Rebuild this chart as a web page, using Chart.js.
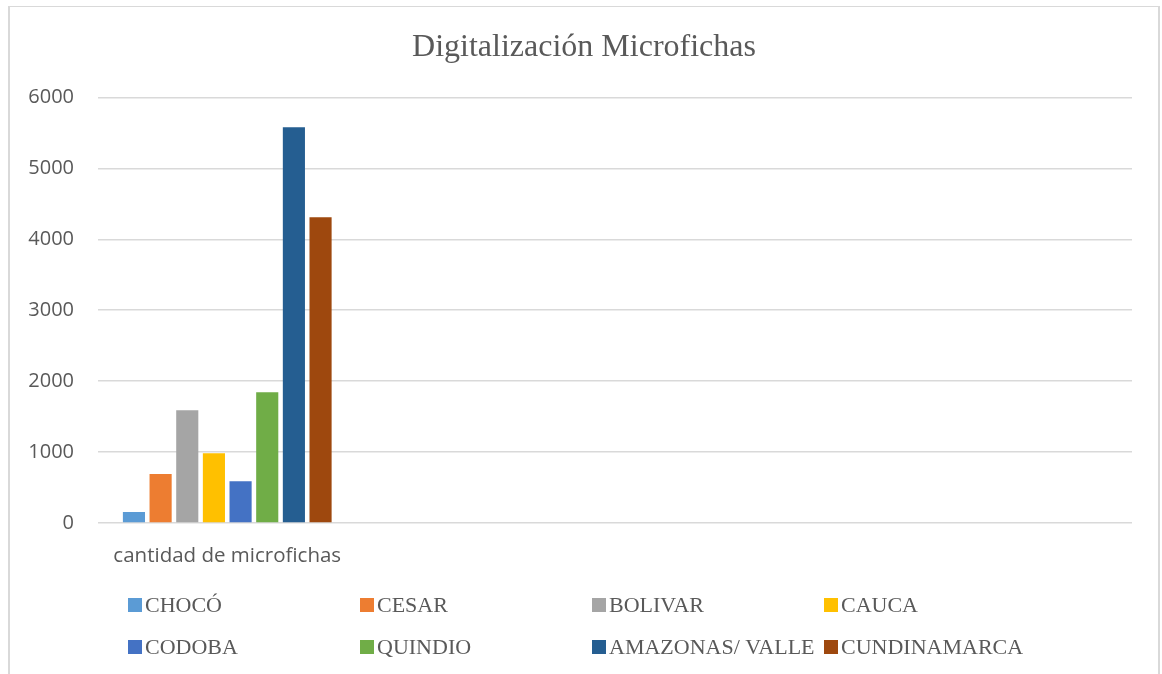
<!DOCTYPE html>
<html>
<head>
<meta charset="utf-8">
<title>Digitalización Microfichas</title>
<script src="https://cdn.jsdelivr.net/npm/chart.js@4"></script>
<style>
  html, body { margin: 0; padding: 0; background: #fff; }
  #wrap { position: relative; width: 1162px; height: 674px; overflow: hidden; }
  #frame {
    position: absolute; left: 8px; top: 6px; width: 1152px; height: 680px;
    border: 2px solid #d9d9d9; border-top-width: 1px; box-sizing: border-box;
  }
  canvas { position: absolute; left: 0; top: 0; }
</style>
</head>
<body>
<div id="wrap">
  <div id="frame"></div>
  <canvas id="chart" width="1162" height="674"></canvas>
</div>
<script>
// one real category, the other three are empty slots in the source sheet
const categories = ["cantidad de microfichas", "", "", ""];
const seriesNames = ["CHOCÓ", "CESAR", "BOLIVAR", "CAUCA", "CODOBA", "QUINDIO", "AMAZONAS/ VALLE", "CUNDINAMARCA"];
const seriesValues = [155, 690, 1590, 985, 590, 1845, 5580, 4310];
const seriesColors = ["#5b9bd5", "#ed7d31", "#a5a5a5", "#ffc000", "#4472c4", "#70ad47", "#255e91", "#9e480e"];

const TEXT = "#595959";
const GRID = "#d9d9d9";

const datasets = seriesNames.map((name, i) => ({
  label: name,
  data: categories.map((c, j) => (j === 0 ? seriesValues[i] : null)),
  backgroundColor: seriesColors[i],
  categoryPercentage: 0.825,
  barPercentage: 0.83,
}));

// legend laid out in a fixed 4-column grid, like the Excel one
const gridLegend = {
  id: "gridLegend",
  afterDraw(chart) {
    const ctx = chart.ctx;
    const cols = 4;
    const x0 = 128, colW = 232, y0 = 605, rowH = 42, box = 14;
    ctx.save();
    ctx.font = "22px 'Liberation Serif'";
    ctx.textBaseline = "middle";
    ctx.textAlign = "left";
    chart.data.datasets.forEach((ds, i) => {
      const x = x0 + (i % cols) * colW;
      const y = y0 + Math.floor(i / cols) * rowH;
      ctx.fillStyle = ds.backgroundColor;
      ctx.fillRect(x, y - box / 2, box, box);
      ctx.fillStyle = TEXT;
      ctx.fillText(ds.label, x + box + 3, y + 1);
    });
    ctx.restore();
  },
};

new Chart(document.getElementById("chart"), {
  type: "bar",
  data: { labels: categories, datasets },
  options: {
    responsive: false,
    animation: false,
    layout: { padding: { top: 8, right: 12, bottom: 0, left: 18 } },
    plugins: {
      legend: { display: false },
      tooltip: { enabled: false },
      title: {
        display: true,
        text: "Digitalización Microfichas",
        color: TEXT,
        font: { family: "'Liberation Serif'", size: 32, weight: "normal" },
        padding: { top: 20, bottom: 31 },
      },
    },
    scales: {
      x: {
        grid: { display: false },
        border: { display: false },
        ticks: { color: TEXT, font: { family: "'Open Sans'", size: 20.5 }, padding: 13, maxRotation: 0, autoSkip: false },
        afterFit(scale) { scale.height = 151; },
      },
      y: {
        min: 0,
        max: 6000,
        ticks: {
          stepSize: 1000, color: TEXT, font: { family: "'Open Sans'", size: 20 }, padding: 24,
          callback: (v) => String(v),
        },
        grid: { color: GRID, lineWidth: 1.5, drawTicks: false },
        border: { display: false },
        afterFit(scale) { scale.width = 80; },
      },
      // empty right-hand box so the plot ends short of the frame
      y2: {
        position: "right",
        display: true,
        min: 0,
        max: 6000,
        grid: { display: false },
        border: { display: false },
        ticks: { display: false },
        afterFit(scale) { scale.width = 18; },
      },
    },
  },
  plugins: [gridLegend],
});
</script>
</body>
</html>
